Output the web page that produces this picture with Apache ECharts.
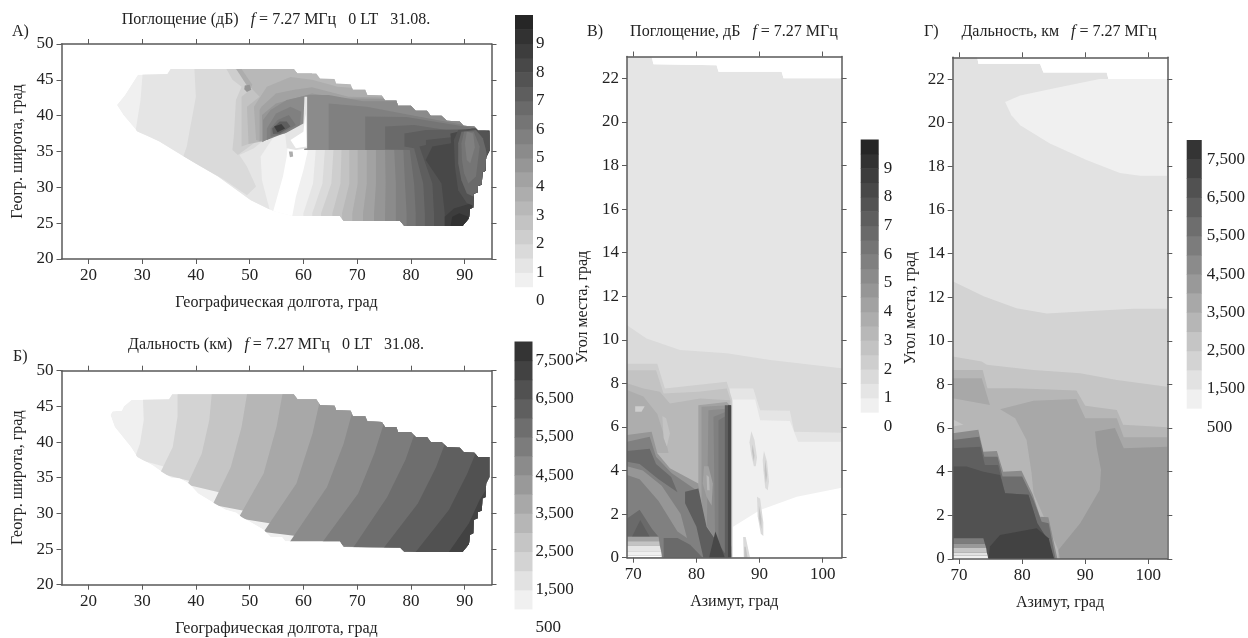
<!DOCTYPE html>
<html><head><meta charset="utf-8">
<script src="https://cdn.jsdelivr.net/npm/echarts@6/dist/echarts.min.js"></script>
<style>html,body{margin:0;background:#fff}#c{width:1248px;height:638px}</style></head>
<body><div id="c"></div>
<script>
// ---------- ticks ----------
const lonTicks = [20,30,40,50,60,70,80,90];
const latTicks = [20,25,30,35,40,45,50];
const azTicks = [70,80,90,100];
const elevTicks = [0,2,4,6,8,10,12,14,16,18,20,22];
const absLegendTicks = [0,1,2,3,4,5,6,7,8,9];
const rangeLegendTicks = [500,1500,2500,3500,4500,5500,6500,7500];
const absBands = [0.5,1,1.5,2,2.5,3,3.5,4,4.5,5,5.5,6,6.5,7,7.5,8,8.5,9,9.5];
const rangeBands = [1000,1500,2000,2500,3000,3500,4000,4500,5000,5500,6000,6500,7000,7500];

// ---------- panel A: absorption map (lon, lat) ----------
const absMapOutline = [[25.3,41.5],[26.8,42.9],[29.2,45.7],[34.7,45.8],[35.3,46.5],[58.2,46.5],[58.9,45.9],[62.4,45.9],[63.1,45.2],[65.8,45.1],[66.1,44.5],[68.8,44.4],[69.2,43.6],[71.5,43.6],[71.9,42.9],[74.6,42.8],[75.2,42.1],[77.3,42.1],[77.6,41.4],[80,41.4],[80.9,40.7],[83,40.7],[83.7,40],[85.7,40],[86.7,39.3],[89.1,39.2],[89.8,38.6],[91.8,38.5],[92.5,37.9],[94.6,37.9],[94.6,35.1],[94,34.2],[93.9,32.3],[93.3,32.1],[93.2,30.4],[92.5,30.2],[92.4,29.3],[91.7,29.1],[91.6,27.2],[91,27],[90.8,25.7],[89.6,24.6],[78.8,24.6],[78,25.3],[67.5,25.3],[66.8,26],[57.9,26],[54.3,26.7],[50.2,28.2],[44.1,31.5],[40,33.3],[37.3,34.5],[33.2,36.4],[31.2,37.1],[29.1,37.8],[26.5,40.1]];
const absMapWest = [
 [0.5,absMapOutline],
 [0,[[57.3,37.5],[60,37.5],[60.8,35],[60,32.4],[58.6,28.7],[57.9,25.9],[54.9,25.4],[54.4,26.7],[56.2,31.5],[56.9,34.3]]],
 [1,[[30.2,46.9],[29.7,42.2],[28.7,37.5],[30.6,35.7],[50.8,26.4],[53.9,26.4],[52.3,31],[52.05,34.3],[54.9,37.5],[61.6,42.2],[61.6,46.9]]],
 [1.5,[[39.7,46.9],[40,42.65],[38.3,35.7],[37.65,34.3],[45.4,31],[49.5,28.9],[51.2,30.1],[49.5,32.9],[48.1,34.5],[50.8,35.45],[61.6,42.2],[61.6,46.9]]],
 [2,[[45.4,46.9],[46.8,45],[48.5,44.05],[47.45,42.2],[47.1,37.5],[46.8,35.2],[47.8,34.5],[50.8,36.15],[61.6,42.2],[61.6,46.9]]],
 [2.5,[[46.8,46.9],[49.5,45],[50.8,44.05],[48.5,42.65],[48.5,35.7],[50.2,36.15],[61.6,42.2],[61.6,46.9]]],
 [3,[[48.1,46.9],[48.8,45],[51.85,42.65],[49.5,41.25],[49.8,36.05],[52.2,36.4],[56.2,37.75],[60.2,37.75],[60.2,35.2],[98,35.2],[98,46.9]]],
 [3.5,[[47.5,46.5],[48.5,46.5],[50.5,44.3],[50,43.6]]],
 [4.5,[[49.1,44.2],[50,44.3],[50.3,43.6],[49.5,43.3],[49,43.7]]],
 [3.5,[[53.2,44.05],[57.6,45.4],[61.6,45],[66.4,44.05],[98,42.2],[98,35.2],[60.2,35.2],[60.2,37.75],[56.2,37.75],[52.2,36.4],[51.2,36.6],[50.8,41.25]]],
 [4,[[52.2,41.25],[54.9,43.1],[58.3,43.6],[61.6,43.95],[68.4,42.65],[98,42.2],[98,35.2],[60.2,35.2],[60.2,37.5],[55.6,37.75],[51.85,36.4],[51.85,40.8]]],
 [4.5,[[52.3,40.1],[54.9,41.7],[58.3,42.4],[61.6,43.1],[67.7,42.4],[98,42.2],[98,35.2],[60.2,35.2],[60.2,37.6],[55.6,37.6],[52.3,36.3]]],
 [5,[[52.5,39.4],[53.9,40.8],[56.9,42.2],[61,42.9],[64.7,42.9],[71.1,42],[98,42],[98,35.2],[60.3,35.2],[60,37.6],[55.6,37.5],[52.5,36.4]]],
 [5.5,[[53.2,38.2],[54.9,40.3],[57.6,41.25],[59.6,40.55],[59.3,38.2],[55.6,37.3],[53.2,36.6]]],
 [6,[[53.9,38.2],[55.2,39.4],[57.3,40.1],[58.6,38.7],[55.9,37.45],[53.9,37.05]]],
 [7,[[54.2,38.2],[55.6,39.2],[56.9,39.2],[57.6,38.5],[55.6,37.5],[54.35,37.45]]],
 [8.5,[[54.55,38.5],[55.9,38.85],[56.6,38.2],[55.2,37.7]]],
 [1,[[60.2,42.65],[60.7,42.65],[60.7,35.45],[58.6,35.2],[56.9,35.45],[56.6,37.5],[60,38.9]]],
 [0,[[60.4,40.3],[60.6,35.7],[58.6,35.45],[57.6,36.6],[60,37.75]]],
 [3.5,[[57.3,35],[58,35],[58.1,34.3],[57.5,34.2]]]
];
const absMapSouthLevels = [1,1.5,2,2.5,3,3.5,4,4.5,5];
const absMapSouthLons = [[62.3,61.8,60],[64,63.55,61.65],[65.6,65.2,63.3],[67.1,66.9,65.4],[68.55,68.55,67.2],[70.1,70.1,69.1],[71.8,71.8,71.1],[73.5,73.5,73.15],[75.2,75.3,75.2]];
const absMapSouthLats = [35.2,30.55,26.4];
const absMapEast = [
 [5.5,[[64.7,41.7],[71.8,41.25],[79.9,40.1],[91.4,38.5],[98,38.5],[98,23.6],[77.2,23.6],[77.2,26.4],[77.2,30.55],[76.9,35.2],[64.7,35.2]]],
 [6,[[71.5,39.9],[79.2,39.8],[98,37.5],[98,23.6],[79.2,23.6],[79.2,26.4],[78.9,30.55],[78.6,35.2],[71.5,35.2]]],
 [6.5,[[75.2,38.5],[80.6,38.7],[88.7,37.75],[98,37.5],[98,23.6],[80.9,23.6],[80.9,26.4],[80.6,30.55],[79.8,35.2],[75.2,35.3]]],
 [7,[[78.8,37.5],[82.8,38],[98,38.2],[98,23.6],[82.6,23.6],[82.6,26.4],[82.3,30.55],[80.6,35.45],[78.8,35.7]]],
 [7.5,[[82.8,36.6],[87.5,37],[98,37.5],[98,23.6],[84.3,23.6],[84.3,26.4],[84,30.55],[81.6,35.7],[82.8,35.9]]],
 [8,[[84,35.7],[87.5,36.15],[87.35,37.5],[91.4,38.2],[98,38.2],[98,23.6],[86.3,23.6],[86.3,26.4],[85.7,30.55],[82.75,33.8]]],
 [8.5,[[86.3,24],[86.3,25.9],[88,27.05],[91.4,27.8],[91.4,24]]],
 [9,[[87.35,24.5],[87.7,25.9],[89,26.4],[90.7,25.9],[90.05,24]]],
 [7.5,[[88,36.6],[88.8,38],[92.8,38.2],[95.5,37.5],[95.5,30.1],[92.1,27.3],[90.4,27.8],[88.8,29.6],[88.2,32.9]]],
 [6.5,[[88.8,36.15],[89.4,37.75],[92.1,38],[93.4,36.85],[94.45,33.8],[93.4,30.1],[91.7,28.7],[90.4,29.15],[89.4,31],[88.8,33.35]]],
 [6,[[89.4,36.15],[89.9,37.75],[91.7,37.75],[92.8,35.7],[92.1,31.5],[90.7,30.55],[89.9,31.95],[89.5,33.8]]],
 [5.5,[[90.05,36.15],[90.4,37.75],[91.6,37.5],[91.9,35.6],[91.05,33.35],[90.4,33.8]]],
 [7.5,[[94.1,35.2],[95,36.6],[95,34.3],[94.1,34.3]]]
];
const absMapLabels = [[48,38.3,'2,5',90],[58.9,40.2,'5',90],[67.3,30.9,'2,5',80],[75.4,30.6,'5',90],[84.4,31.7,'7,5',70]];

// ---------- panel B: range map (lon, lat) ----------
const rangeMapOutline = [[24.1,43.8],[24.5,44.3],[26.2,44.4],[26.6,45],[28,45.9],[35,46],[35.6,46.7],[58.2,46.7],[58.9,46],[62.4,46],[63.1,45.2],[65.8,45.1],[66.1,44.5],[68.8,44.4],[69.2,43.6],[71.5,43.6],[71.9,42.9],[74.6,42.8],[75.2,42.1],[77.3,42.1],[77.6,41.4],[80,41.4],[80.9,40.7],[83,40.7],[83.7,40],[85.7,40],[86.7,39.3],[89.1,39.2],[89.8,38.6],[91.8,38.5],[92.5,37.9],[94.6,37.9],[94.6,35.1],[94,34.2],[93.9,32.3],[93.3,32.1],[93.2,30.4],[92.5,30.2],[92.4,29.3],[91.7,29.1],[91.6,27.2],[91,27],[90.8,25.7],[89.6,24.6],[78.8,24.6],[78,25.2],[67.5,25.3],[66.8,26.1],[56.6,26.1],[56,26.7],[53.9,26.7],[52.6,27.7],[48.5,29.5],[47.5,30.1],[45.5,30.5],[43.5,31.4],[42.1,32],[40.4,32.8],[38.7,34.2],[37,34.9],[35.4,35],[33.7,35.8],[32,36.7],[29.1,37.9],[27.9,39.3],[24.9,42.1]];
const rangeMapLevels = [1500,2000,2500,3000,3500,4000,4500,5000,5500,6000,6500,7000];
const rangeMapContours = [
 [[30.1,47.1],[30.3,43.1],[29.6,39.8],[28.6,37.7]],
 [[36.6,47.1],[36.6,43.6],[35.7,39.3],[33.3,35.6]],
 [[43,47.1],[42.5,43.1],[41.1,38.4],[38.4,34]],
 [[49.6,47.1],[48.5,42.1],[46.5,36.5],[43.1,31.2]],
 [[56.2,47.1],[55,42.1],[52.6,35.6],[47.9,29.3]],
 [[63.1,45.9],[61.7,41.2],[58.7,34.2],[52.6,27.4]],
 [[69.2,44.5],[67.5,39.8],[64.4,33.7],[57.3,25.8]],
 [[75.1,42.9],[73.2,38.4],[70.2,32.8],[63.4,25.8]],
 [[80.8,41.4],[79,37.5],[75.6,32.3],[69.2,25.1]],
 [[86.6,40.3],[84.7,36.5],[81.3,31.4],[74.9,25.1]],
 [[92.3,38.9],[90.5,35.6],[87.1,30.5],[80.7,24.4]],
 [[95.5,35.1],[92.8,31.9],[90.8,28.6],[86.9,24.4]]
];
const rangeMapLabels = [[45.2,34.7,'3000',56],[74,31.6,'5500',58]];

// ---------- panel V: absorption (azimuth, elevation) ----------
const absAzOutline = [[69,23],[72.9,23],[73.2,22.65],[83.2,22.6],[83.5,22.3],[93.5,22.3],[93.8,22],[103,22],[103,0],[69,0]];
const absAzLayers = [
 [1,absAzOutline],
 [1.5,[[69,10.67],[72.1,10.06],[77.4,9.53],[84.8,9.38],[91.7,9.07],[103,8.69],[103,0],[69,0]]],
 [1,[[85.3,7.77],[89,7.77],[90.1,6.77],[94.8,6.74],[95.5,5.78],[103,5.73],[103,0],[85.3,0]]],
 [0.5,[[85.3,7.26],[89.3,7.26],[90.1,6.31],[94.8,6.27],[96.1,5.32],[103,5.32],[103,0],[85.3,0]]],
 [0,[[103,3.21],[95.9,2.8],[90.1,2.19],[85.8,1.42],[85.8,0],[103,0]]],
 [1.5,[[88.7,5.8],[89.2,5.4],[89.6,4.6],[89.4,4.2],[89.1,4.2],[88.7,4.7],[88.4,5.3]]],
 [2.5,[[88.9,5.2],[89.2,4.7],[89.1,4.4],[88.8,4.9]]],
 [1.5,[[90.7,4.9],[91.2,4.4],[91.5,3.5],[91.3,3.1],[90.9,3.2],[90.6,4],[90.5,4.5]]],
 [2.5,[[90.9,4.5],[91.2,3.8],[91,3.4],[90.8,4]]],
 [1.5,[[89.6,2.8],[90.1,2.7],[90.6,1.6],[90.6,1],[90.2,1.1],[89.7,1.9]]],
 [2.5,[[89.9,2.4],[90.3,1.8],[90.3,1.3],[89.9,1.8]]],
 [1.5,[[87.4,0.95],[87.8,0.95],[88.5,0],[87.5,0]]],
 [2.5,[[87.6,0.5],[87.8,0.5],[88.1,0],[87.6,0]]],
 [2,[[69,8.9],[73.8,8.9],[75,7.77],[84.8,8.07],[85.7,7.23],[85.7,0],[69,0]]],
 [2.5,[[69,8.6],[73.6,8.6],[74.8,7.54],[80.3,7.61],[84.8,7.77],[85.5,7.16],[85.5,0],[69,0]]],
 [3,[[69,8],[71.6,7.77],[74.2,7.61],[75.8,7.08],[80.6,7.31],[85.3,7.23],[85.4,0],[69,0]]],
 [3.5,[[69,7.7],[71.6,7.4],[73.8,6.6],[75,5.5],[75.6,4.8],[69,4.8]]],
 [2,[[70.3,6.95],[71.8,6.95],[71.3,6.7],[70.3,6.7]]],
 [2.5,[[74.6,6.5],[75.2,6.4],[75.8,5.7],[75.3,5.1],[74.8,5.5]]],
 [4,[[80.3,7],[84.8,7.15],[85.5,6.93],[85.5,0],[80.3,0]]],
 [4.5,[[80.8,6.93],[85.3,7],[85.5,0],[80.8,0]]],
 [5,[[81.9,6.77],[85.2,6.85],[85.5,0],[81.6,0]]],
 [5.5,[[82.7,6.47],[85.3,6.77],[85.5,0],[83,0]]],
 [6,[[83.5,6.31],[85.3,6.62],[85.5,0],[83.5,0]]],
 [7,[[84.5,7],[85.5,7],[85.5,0],[84.5,0]]],
 [8,[[85,7],[85.5,7],[85.5,0],[85,0]]],
 [4,[[81.2,4.2],[81.9,4.2],[82.6,3.4],[82.4,2.4],[81.6,2.8],[81,3.4]]],
 [3,[[81.6,3.8],[82,3.7],[82.1,3.1],[81.7,3.1]]],
 [4.5,[[69,5.63],[72.9,5.78],[73.8,4.79],[75.8,4.1],[80.3,3.41],[81.1,1.73],[84.8,0],[69,0]]],
 [5.5,[[69,5.32],[72.6,5.55],[73.6,4.63],[76.1,3.87],[80,3.1],[81.4,1.42],[84.5,0],[69,0]]],
 [6.5,[[69,4.9],[72.6,5],[73.6,4.3],[76,3.7],[77,3],[74,3.6],[71,4.3],[69,4.4]]],
 [4.5,[[69,3.8],[71,3.6],[74,2.6],[77,1.2],[78.5,0.9],[77.5,2],[74.5,3.3],[71.5,4],[69,4.2]]],
 [7,[[78.2,3.03],[80.3,3.18],[81.6,1.42],[85,0],[81.1,0],[80,1.42],[78.2,2.5]]],
 [8,[[82,0],[83,1.2],[84.5,0]]],
 [6.5,[[74.8,0],[74.8,0.9],[77,0.9],[79,0.6],[81,0]]],
 [6.5,[[69,1.8],[71,2.2],[73,1.3],[74,0.96],[69,0.96]]],
 [7,[[71.1,1.73],[72.6,0.96],[69.8,0.96]]],
 [4,[[69,0.96],[74,0.96],[74.1,0.75],[69,0.75]]],
 [2.5,[[69,0.75],[74.1,0.75],[74.2,0.55],[69,0.55]]],
 [1,[[69,0.55],[74.2,0.55],[74.4,0.3],[69,0.3]]],
 [0.5,[[69,0.3],[74.4,0.3],[74.5,0.1],[69,0.1]]],
 [0,[[69,0.1],[74.5,0.1],[74.5,0],[69,0]]]
];
const absAzLabels = [[78.8,7.77,'2,5',0],[83.3,7.4,'5',0],[84.5,4.56,'7,5',-90],[82.5,3,'5',-90],[76.3,4.5,'5',-60],[79.1,2.1,'7,5',-70]];

// ---------- panel G: range (azimuth, elevation) ----------
const rangeAzOutline = [[69,23],[72.9,23],[73.06,22.7],[82.84,22.7],[83.37,22.3],[93.4,22.3],[93.67,22],[103,22],[103,0],[69,0]];
const rangeAzLayers = [
 [1500,rangeAzOutline],
 [1000,[[103,22],[92.3,22],[85.5,21.6],[79.7,21.25],[77.3,20.95],[78.3,20.34],[79.7,19.88],[84.4,19.05],[90.2,18.29],[95.5,17.7],[98.7,17.57],[103,17.57]]],
 [2000,[[69,12.73],[73.9,12.05],[79.1,11.5],[83.9,11.25],[90.2,11.36],[97.6,11.47],[103,11.47],[103,0],[69,0]]],
 [2500,[[69,9.28],[73.6,9.05],[74.4,8.9],[81.8,8.67],[89.2,8.52],[95,8.21],[103,7.9],[103,0],[69,0]]],
 [3000,[[69,8.67],[73.75,8.67],[74.5,7.83],[78.9,7.83],[88.6,7.72],[90,7.02],[95,6.83],[96,6.15],[103,6.04],[103,0],[69,0]]],
 [3500,[[69,8.29],[73.6,8.29],[74.9,7.06],[69,7.37]]],
 [3500,[[76.5,6.87],[81.8,7.26],[88.6,7.34],[90,6.45],[95,6.45],[96.1,5.58],[103,5.58],[103,0],[85.74,0],[85.74,0.41],[81.8,3.01],[81.5,3.93],[80.7,5.46],[78.9,6.45]]],
 [4000,[[91.55,5.84],[94.7,6],[96.1,5.08],[103,5.15],[103,0],[86,0],[85.74,0.41],[89.2,1.64],[92.3,3.17],[92.5,4.08],[91.8,5.15]]],
 [2500,[[69,6.41],[70.7,6.15],[69,6.07]]],
 [4500,[[69,5.76],[73.06,5.92],[73.86,4.92],[76,4.95],[77,4],[79.9,4.05],[81.7,2.94],[82.84,1.94],[84.16,1.91],[85.6,0],[69,0]]],
 [5500,[[69,5.46],[73.2,5.61],[74,4.69],[76.1,4.69],[76.9,3.78],[80,3.78],[81.8,2.71],[83.1,1.71],[84.2,1.64],[85.3,0],[69,0]]],
 [6000,[[69,5.08],[73.4,5.15],[74.1,4.31],[76.2,4.31],[77.3,3.01],[81,2.94],[82.4,1.64],[83.9,0.95],[85.05,0],[69,0]]],
 [6500,[[69,4.24],[71.2,4.24],[73.86,4],[76.5,3.85],[77.3,3.01],[81,2.94],[82.4,1.64],[83.9,0.95],[85.05,0],[69,0]]],
 [7000,[[74.65,0],[74.9,0.57],[76.5,1.1],[82.3,1.41],[84.2,0.95],[85.05,0]]],
 [5000,[[69,0.95],[73.86,0.95],[74.1,0.7],[69,0.7]]],
 [4000,[[69,0.7],[74.1,0.7],[74.3,0.5],[69,0.5]]],
 [2500,[[69,0.5],[74.3,0.5],[74.4,0.3],[69,0.3]]],
 [1500,[[69,0.3],[74.4,0.3],[74.55,0.15],[69,0.15]]],
 [1000,[[69,0.15],[74.55,0.15],[74.6,0.05],[69,0.05]]],
 [500,[[69,0.05],[74.6,0.05],[74.65,0],[69,0]]]
];
const rangeAzLabels = [[77.3,7.87,'3000',-5]];

// ---------- styling helpers ----------
const SERIF = '"Liberation Serif","Times New Roman",serif';
const SANS = '"Liberation Sans",Arial,sans-serif';
const INK = '#222', AXIS = '#5a5a5a';
function absColor(v){ if(v<0.5) return '#ffffff'; const g=Math.round(240-(v-0.5)*22.4); return `rgb(${g},${g},${g})`; }
function rangeColor(v){ if(v<1000) return '#ffffff'; const g=Math.round(240-(v-1000)/500*14.5); return `rgb(${g},${g},${g})`; }

// build the layered regions of A and B from their contour lists
const absMapLayers = absMapWest
  .concat(absMapSouthLevels.map((lv,i)=>{
    const l=absMapSouthLons[i], la=absMapSouthLats;
    return [lv,[[l[0],la[0]],[l[1],la[1]],[l[2],la[2]],[l[2],23.6],[98,23.6],[98,la[0]]]];
  }))
  .concat(absMapEast);
const rangeMapLayers = [[1000,rangeMapOutline]].concat(rangeMapLevels.map((lv,i)=>[lv,rangeMapContours[i].concat([[100,23],[100,48]])]));

const panels = [
 {g:{left:61.5,top:44,width:430,height:215},x:[15,95],y:[20,50],xt:lonTicks,yt:latTicks,xn:'Географическая долгота, град',yn:'Геогр. широта, град',xg:36,yg:36,layers:absMapLayers,outline:absMapOutline,color:absColor,labels:absMapLabels,lf:{fontSize:16,fontWeight:'normal'}},
 {g:{left:61.5,top:370.7,width:430,height:214},x:[15,95],y:[20,50],xt:lonTicks,yt:latTicks,xn:'Географическая долгота, град',yn:'Геогр. широта, град',xg:36,yg:36,layers:rangeMapLayers,outline:rangeMapOutline,color:rangeColor,labels:rangeMapLabels,lf:{fontSize:18,fontWeight:'normal'}},
 {g:{left:627,top:56.5,width:214.6,height:501.2},x:[69,103],y:[0,23],xt:azTicks,yt:elevTicks,xn:'Азимут, град',yn:'Угол места, град',xg:36,yg:36,layers:absAzLayers,outline:absAzOutline,color:absColor,labels:absAzLabels,lf:{fontSize:11,fontWeight:'bold'}},
 {g:{left:952.7,top:57.3,width:214.6,height:501.7},x:[69,103],y:[0,23],xt:azTicks,yt:elevTicks,xn:'Азимут, град',yn:'Угол места, град',xg:36,yg:34,layers:rangeAzLayers,outline:rangeAzOutline,color:rangeColor,labels:rangeAzLabels,lf:{fontSize:11,fontWeight:'bold'}}
];
const legends = [
 {g:{left:515,top:15,width:18,height:286},bands:absBands,step:0.5,ticks:absLegendTicks,min:0,max:10,interval:1,color:absColor,margin:3},
 {g:{left:514.5,top:341.5,width:18,height:286.5},bands:rangeBands,step:500,ticks:rangeLegendTicks,min:500,max:8000,interval:500,color:rangeColor,margin:3},
 {g:{left:860.7,top:139.5,width:18,height:287},bands:absBands,step:0.5,ticks:absLegendTicks,min:0,max:10,interval:1,color:absColor,margin:5},
 {g:{left:1186.7,top:140,width:18,height:287.3},bands:rangeBands,step:500,ticks:rangeLegendTicks,min:500,max:8000,interval:500,color:rangeColor,margin:5}
];

const grid=[],xAxis=[],yAxis=[],series=[];
const line={show:true,onZero:false,lineStyle:{color:AXIS,width:1.5}};
const tickStyle=v=>({show:true,length:5,inside:false,lineStyle:{color:AXIS,width:1},customValues:v});
panels.forEach((p)=>{
  const gi=grid.length; grid.push(p.g);
  const xi=xAxis.length, yi=yAxis.length;
  const lab=(v)=>({show:true,fontFamily:SERIF,fontSize:17,color:INK,margin:8,customValues:v,hideOverlap:false});
  xAxis.push({type:'value',gridIndex:gi,position:'bottom',min:p.x[0],max:p.x[1],z:5,axisLine:line,axisTick:tickStyle(p.xt),axisLabel:lab(p.xt),splitLine:{show:false},
    name:p.xn,nameLocation:'middle',nameGap:p.xg,nameTextStyle:{fontFamily:SERIF,fontSize:16,color:INK}});
  xAxis.push({type:'value',gridIndex:gi,position:'top',min:p.x[0],max:p.x[1],z:5,axisLine:line,axisTick:tickStyle(p.xt),axisLabel:{show:false},splitLine:{show:false}});
  yAxis.push({type:'value',gridIndex:gi,position:'left',min:p.y[0],max:p.y[1],z:5,axisLine:line,axisTick:tickStyle(p.yt),axisLabel:lab(p.yt),splitLine:{show:false},
    name:p.yn,nameLocation:'middle',nameGap:p.yg,nameTextStyle:{fontFamily:SERIF,fontSize:16,color:INK}});
  yAxis.push({type:'value',gridIndex:gi,position:'right',min:p.y[0],max:p.y[1],z:5,axisLine:line,axisTick:tickStyle(p.yt),axisLabel:{show:false},splitLine:{show:false}});
  series.push({type:'custom',xAxisIndex:xi,yAxisIndex:yi,silent:true,animation:false,clip:true,z:2,
    data:p.layers.map(l=>[l[1][0][0],l[1][0][1],l[0]]),
    renderItem:(params,api)=>{
      const l=p.layers[params.dataIndex];
      return {type:'polygon',shape:{points:l[1].map(q=>api.coord(q))},
        style:{fill:p.color(l[0])},
        clipPath:{type:'polygon',shape:{points:p.outline.map(q=>api.coord(q))}}};
    }});
  series.push({type:'scatter',xAxisIndex:xi,yAxisIndex:yi,silent:true,animation:false,z:3,symbol:'none',symbolSize:0,
    data:p.labels.map(t=>({value:[t[0],t[1]],label:{show:true,position:'inside',formatter:t[2],rotate:t[3],color:'#000',fontFamily:SANS,fontSize:p.lf.fontSize,fontWeight:p.lf.fontWeight}}))});
});
legends.forEach((b)=>{
  const gi=grid.length; grid.push(b.g);
  const xi=xAxis.length, yi=yAxis.length;
  xAxis.push({type:'value',gridIndex:gi,min:0,max:1,show:false});
  yAxis.push({type:'value',gridIndex:gi,position:'right',min:b.min,max:b.max,interval:b.interval,
    axisLine:{show:false},axisTick:{show:false},splitLine:{show:false},
    axisLabel:{show:true,fontFamily:SERIF,fontSize:17,color:INK,margin:b.margin,customValues:b.ticks,hideOverlap:false}});
  series.push({type:'custom',xAxisIndex:xi,yAxisIndex:yi,silent:true,animation:false,
    data:b.bands.map(v=>[0,v]),
    renderItem:(params,api)=>{
      const v=api.value(1), a=api.coord([0,v]), c=api.coord([1,v+b.step]);
      return {type:'rect',shape:{x:a[0],y:c[1],width:c[0]-a[0],height:a[1]-c[1]+0.5},style:{fill:b.color(v)}};
    }});
});

const rich={a:{fontFamily:SERIF,fontSize:16,color:INK},i:{fontFamily:SERIF,fontSize:16,fontStyle:'italic',color:INK}};
const T=(x,y,text,align)=>({left:x,top:y,textAlign:align||'center',text,padding:0,textStyle:{fontFamily:SERIF,fontSize:16,color:INK,rich,fontWeight:'normal'}});
const title=[
 T(276,12,'{a|Поглощение (дБ)   }{i|f}{a| = 7.27 МГц   0 LT   31.08.}'),
 T(276,337,'{a|Дальность (км)   }{i|f}{a| = 7.27 МГц   0 LT   31.08.}'),
 T(734,24,'{a|Поглощение, дБ   }{i|f}{a| = 7.27 МГц}'),
 T(1059,24,'{a|Дальность, км   }{i|f}{a| = 7.27 МГц}'),
 T(12,24,'{a|А)}','left'),T(13,349,'{a|Б)}','left'),T(587,24,'{a|В)}','left'),T(924,24,'{a|Г)}','left')
];
const chart=echarts.init(document.getElementById('c'),null,{renderer:'canvas'});
chart.setOption({animation:false,backgroundColor:'#fff',title,grid,xAxis,yAxis,series});
</script></body></html>
